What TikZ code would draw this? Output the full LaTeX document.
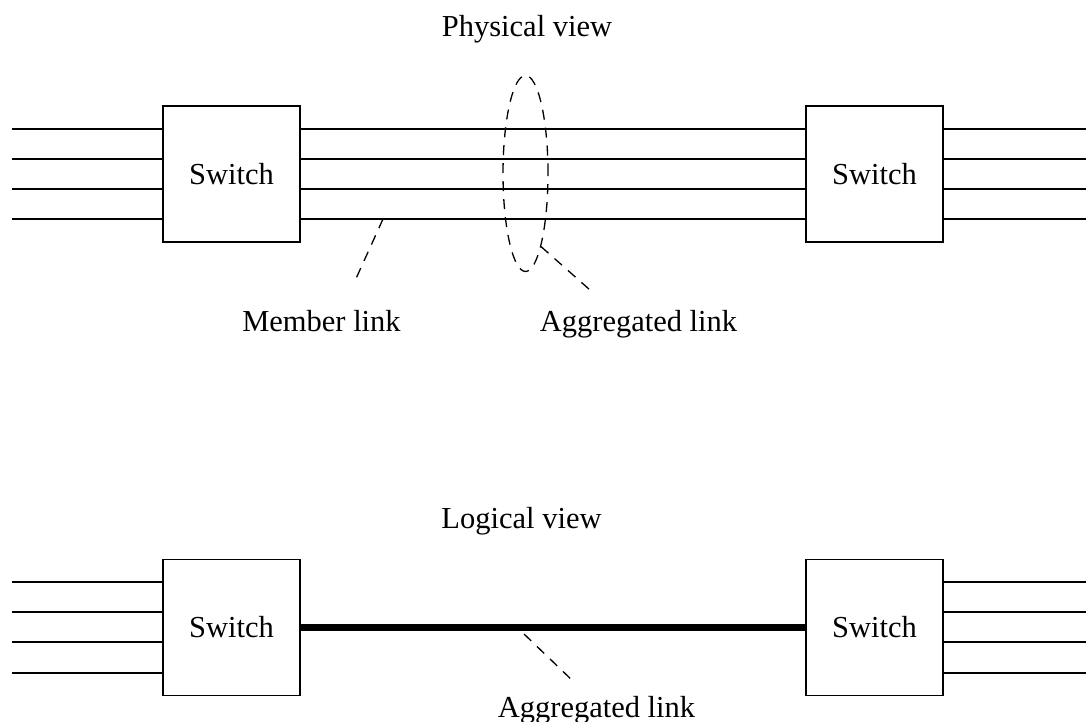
\documentclass[tikz,border=0pt]{standalone}
\usepackage{fontspec}
\setmainfont{Liberation Serif}
\usetikzlibrary{shapes.geometric,calc}
\begin{document}
\begin{tikzpicture}[x=1pt,y=-1pt,
  every node/.style={font=\fontsize{30.5}{36}\selectfont},
  switchbox/.style={draw, line width=1.3pt, minimum width=137pt, minimum height=136pt, inner sep=0pt},
  wire/.style={line width=1.3pt},
  thickwire/.style={line width=7pt},
  dashedline/.style={line width=1.3pt, dash pattern=on 10pt off 8pt},
  lbl/.style={anchor=base, inner sep=0pt}]
\useasboundingbox (0,0) rectangle (1086,722);
% ---- Physical view ----
\node[lbl] (ptitle) at (527,37) {Physical view};
\node[switchbox] (s1) at (231.5,174) {Switch};
\node[switchbox] (s2) at (874.5,174) {Switch};
\foreach \d [count=\i] in {-45,-15,15,45}{
  \coordinate (l\i) at (12,174+\d);
  \coordinate (r\i) at (1086,174+\d);
  \draw[wire] (l\i) -- ($(s1.west)+(0,\d)$);
  \draw[wire] ($(s1.east)+(0,\d)$) -- ($(s2.west)+(0,\d)$);
  \draw[wire] ($(s2.east)+(0,\d)$) -- (r\i);
}
\node[ellipse, draw, dashedline, minimum width=45pt, minimum height=196pt, inner sep=0pt] (agg) at (525.5,173.5) {};
\coordinate (mp) at (383,219);
\coordinate (me) at (354,283);
\draw[dashedline] (mp) -- (me);
\coordinate (ae) at (590,290);
\draw[dashedline] (agg.-78) -- (ae);
\node[lbl] (mlab) at (321.5,331) {Member link};
\node[lbl] (alab) at (638.5,331) {Aggregated link};
% ---- Logical view ----
\node[lbl] (ltitle) at (521.5,528) {Logical view};
\node[switchbox] (s3) at (231.5,627.5) {Switch};
\node[switchbox] (s4) at (874.5,627.5) {Switch};
\foreach \d [count=\i] in {-45.5,-15.5,14.5,45.5}{
  \coordinate (bl\i) at (12,627.5+\d);
  \coordinate (br\i) at (1086,627.5+\d);
  \draw[wire] (bl\i) -- ($(s3.west)+(0,\d)$);
  \draw[wire] ($(s4.east)+(0,\d)$) -- (br\i);
}
\draw[thickwire] (s3.east) -- (s4.west);
\coordinate (bp) at (524,634);
\coordinate (be) at (575,683);
\draw[dashedline] (bp) -- (be);
\node[lbl] (blab) at (596.5,717) {Aggregated link};
\end{tikzpicture}
\end{document}
